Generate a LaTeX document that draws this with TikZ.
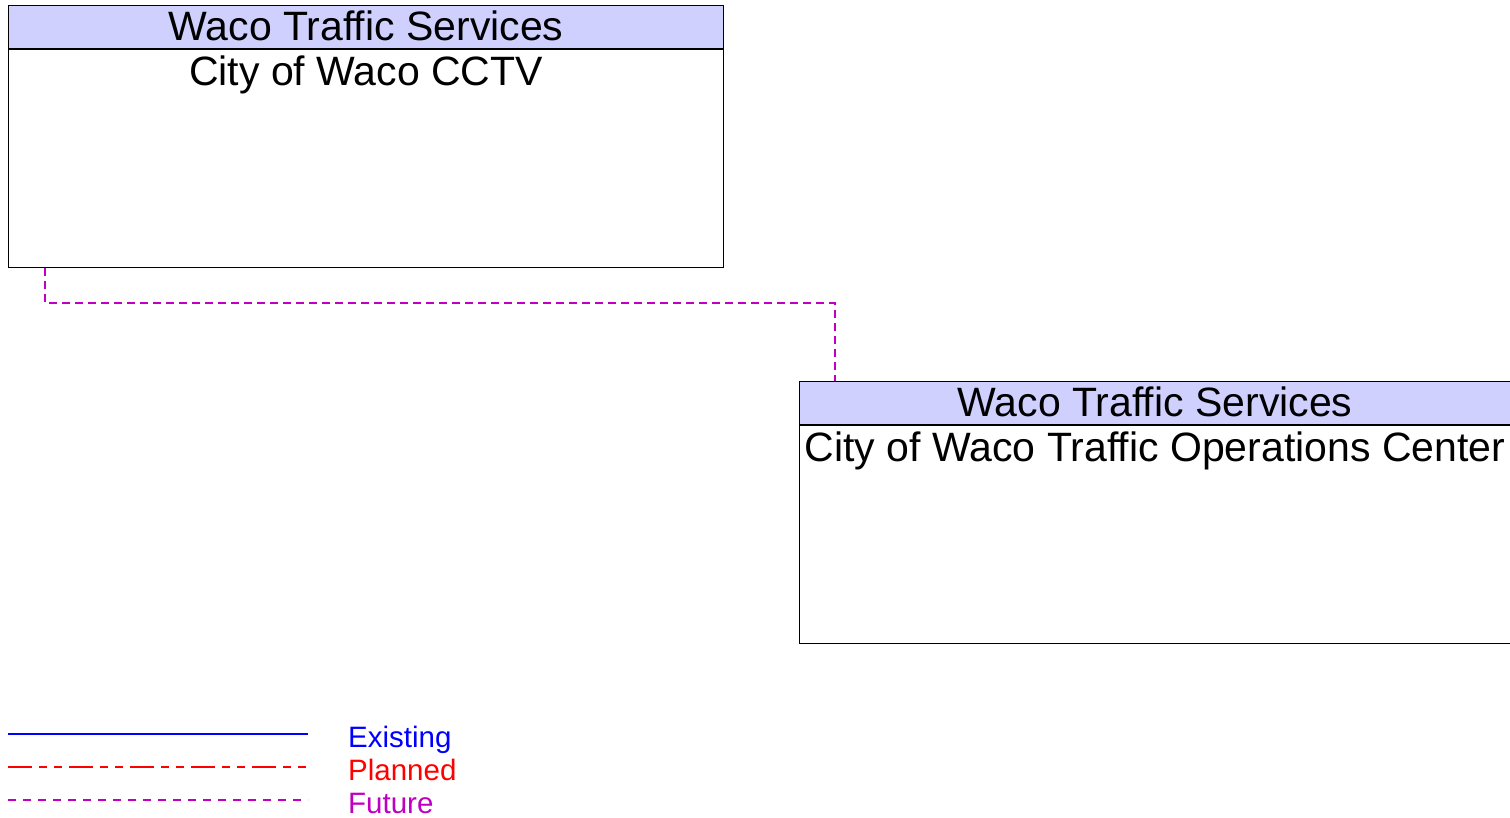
\documentclass[tikz,border=0pt]{standalone}
\usepackage{fontspec}
\setmainfont{Liberation Sans}
\definecolor{hdrblue}{RGB}{208,208,255}
\definecolor{futmagenta}{RGB}{192,0,192}
\definecolor{plnred}{RGB}{255,0,0}
\usetikzlibrary{positioning}

\begin{document}
\begin{tikzpicture}[x=1pt, y=-1pt,
  hdr/.style={draw, line width=1pt, fill=hdrblue, minimum height=43pt, inner sep=0pt, text depth=3pt, font=\fontsize{41}{48}\selectfont},
  body/.style={draw, line width=1pt, fill=white, minimum height=218pt, inner sep=0pt},
  bodytext/.style={font=\fontsize{41}{48}\selectfont, anchor=north, inner sep=7pt},
  legtext/.style={anchor=base west, inner sep=0pt, font=\fontsize{29.5}{34}\selectfont},
  future/.style={draw=futmagenta, line width=1.3pt, dash pattern=on 8pt off 5pt}]
  \useasboundingbox (0,0) rectangle (1510,817);
  \node[hdr, minimum width=715pt, anchor=north west] (cctvhead) at (8,5) {Waco Traffic Services};
  \node[body, minimum width=715pt, below=0pt of cctvhead, label={[bodytext]north:City of Waco CCTV}] (cctv) {};
  \node[hdr, minimum width=711pt, anchor=north west] (tochead) at (799,381) {Waco Traffic Services};
  \node[body, minimum width=711pt, below=0pt of tochead, label={[bodytext]north:City of Waco Traffic Operations Center}] (toc) {};
  \draw[future] ([xshift=37]cctv.south west) -- ++(0,35) -| ([xshift=36]tochead.north west);
  % legend
  \node[legtext, text=blue] (existing) at (348,747) {Existing};
  \node[legtext, text=plnred] (planned) at (348,780) {Planned};
  \node[legtext, text=futmagenta] (futuretxt) at (348,813) {Future};
  \draw[draw=blue, line width=2.5pt] (8,734) -- ++(300,0);
  \draw[draw=plnred, line width=1.3pt, dash pattern=on 24pt off 7pt on 8pt off 7pt on 8pt off 7pt] (8,767) -- ++(300,0);
  \draw[future, dash pattern=on 8pt off 7pt] (8,800) -- ++(300,0);
\end{tikzpicture}
\end{document}
